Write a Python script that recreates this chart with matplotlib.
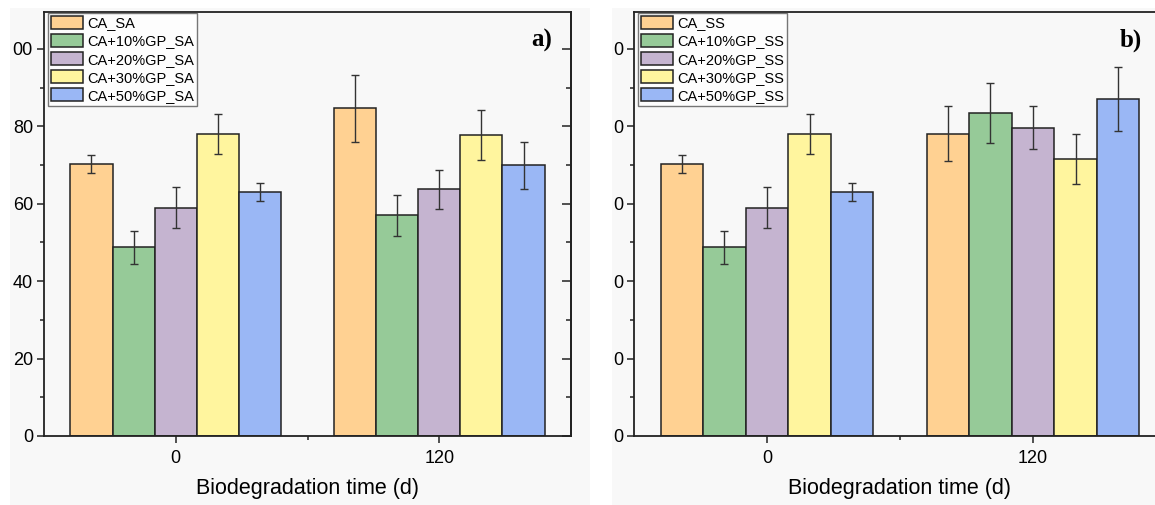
import numpy as np
import matplotlib
matplotlib.use("Agg")
import matplotlib.pyplot as plt
from matplotlib.patches import Rectangle
from matplotlib.ticker import MultipleLocator, FixedLocator

plt.rcParams['font.family'] = ['Liberation Sans', 'DejaVu Sans']

# data
times = ["0", "120"]
labels_sa = ["CA_SA", "CA+10%GP_SA", "CA+20%GP_SA", "CA+30%GP_SA", "CA+50%GP_SA"]
labels_ss = ["CA_SS", "CA+10%GP_SS", "CA+20%GP_SS", "CA+30%GP_SS", "CA+50%GP_SS"]

day0 = [70.2, 48.7, 58.9, 77.9, 63.1]
day0_err = [2.3, 4.2, 5.3, 5.2, 2.3]
sa_120 = [84.6, 57.0, 63.7, 77.7, 69.9]
sa_120_err = [8.6, 5.3, 5.0, 6.5, 6.1]
ss_120 = [78.1, 83.4, 79.6, 71.6, 87.0]
ss_120_err = [7.1, 7.8, 5.6, 6.4, 8.2]

# tick labels as they show (left digits cut off in the source image)
yticks_a = ["0", "20", "40", "60", "80", "00"]
yticks_b = ["0", "0", "0", "0", "0", "0"]

colors = ["#FFD192", "#96CA98", "#C5B4D0", "#FFF59E", "#9AB7F5"]
bg = "#f8f8f8"
W, H = 1155, 505

fig = plt.figure(figsize=(W / 100, H / 100), dpi=100)
fig.patch.set_facecolor("white")
# grey panels behind each chart
fig.add_artist(Rectangle((10 / W, 0), 580 / W, 497 / H, transform=fig.transFigure,
                         facecolor=bg, edgecolor="none", zorder=-10))
fig.add_artist(Rectangle((612 / W, 0), 543 / W, 497 / H, transform=fig.transFigure,
                         facecolor=bg, edgecolor="none", zorder=-10))


def panel(rect, series, errs, names, ylabels, tag, tagx):
    ax = fig.add_axes(rect)
    ax.set_facecolor(bg)
    w = 0.16
    x = np.arange(len(times))
    for i in range(5):
        vals = [series[0][i], series[1][i]]
        e = [errs[0][i], errs[1][i]]
        ax.bar(x + (i - 2) * w, vals, w, color=colors[i], edgecolor="#222222",
               linewidth=1.1, label=names[i], zorder=2)
        ax.errorbar(x + (i - 2) * w, vals, yerr=e, fmt="none", ecolor="#333333",
                    elinewidth=1.0, capsize=3, capthick=1.0, zorder=3)
    ax.set_xlim(-0.5, 1.5)
    ax.set_ylim(0, 109.5)
    ax.xaxis.set_major_locator(FixedLocator([0, 1]))
    ax.set_xticklabels(times)
    ax.xaxis.set_minor_locator(FixedLocator([0.5]))
    ax.yaxis.set_major_locator(FixedLocator([0, 20, 40, 60, 80, 100]))
    ax.set_yticklabels(ylabels)
    ax.yaxis.set_minor_locator(MultipleLocator(10))
    ax.tick_params(axis="both", which="major", labelsize=13, width=1.1, color="#222222")
    ax.tick_params(axis="y", which="major", length=5, pad=3)
    ax.tick_params(axis="y", which="minor", length=3, width=1.1, color="#222222")
    ax.tick_params(axis="x", which="major", length=5, pad=5)
    ax.tick_params(axis="x", which="minor", length=3, width=1.1, color="#222222")
    for s in ax.spines.values():
        s.set_linewidth(1.3)
        s.set_color("#222222")
    sec = ax.secondary_yaxis("right")
    sec.yaxis.set_major_locator(FixedLocator([0, 20, 40, 60, 80, 100]))
    sec.yaxis.set_minor_locator(MultipleLocator(10))
    sec.tick_params(which="major", direction="in", length=6.5, width=1.1,
                    labelright=False, color="#222222")
    sec.tick_params(which="minor", direction="in", length=3.5, width=1.1, color="#222222")
    sec.spines["right"].set_linewidth(1.3)
    sec.spines["right"].set_color("#222222")
    ax.set_xlabel("Biodegradation time (d)", fontsize=15.5, labelpad=8)
    leg = ax.legend(loc="upper left", bbox_to_anchor=(0.008, 0.998), fontsize=10.5,
                    frameon=True, fancybox=False, borderpad=0.2, labelspacing=0.25,
                    handlelength=2.2, handleheight=1.0, handletextpad=0.3,
                    borderaxespad=0)
    leg.get_frame().set_edgecolor("#555555")
    leg.get_frame().set_linewidth(1.0)
    leg.get_frame().set_facecolor("white")
    ax.text(tagx, 0.934, tag, transform=ax.transAxes, ha="right", va="center",
            fontsize=18, fontweight="bold", family=["Liberation Serif", "DejaVu Serif"])
    return ax


panel([44 / W, 69 / H, 527 / W, 424 / H], [day0, sa_120], [day0_err, sa_120_err],
      labels_sa, yticks_a, "a)", 0.964)
panel([634 / W, 69 / H, 532 / W, 424 / H], [day0, ss_120], [day0_err, ss_120_err],
      labels_ss, yticks_b, "b)", 0.955)

fig.savefig("out.png", dpi=100, facecolor=fig.get_facecolor())
